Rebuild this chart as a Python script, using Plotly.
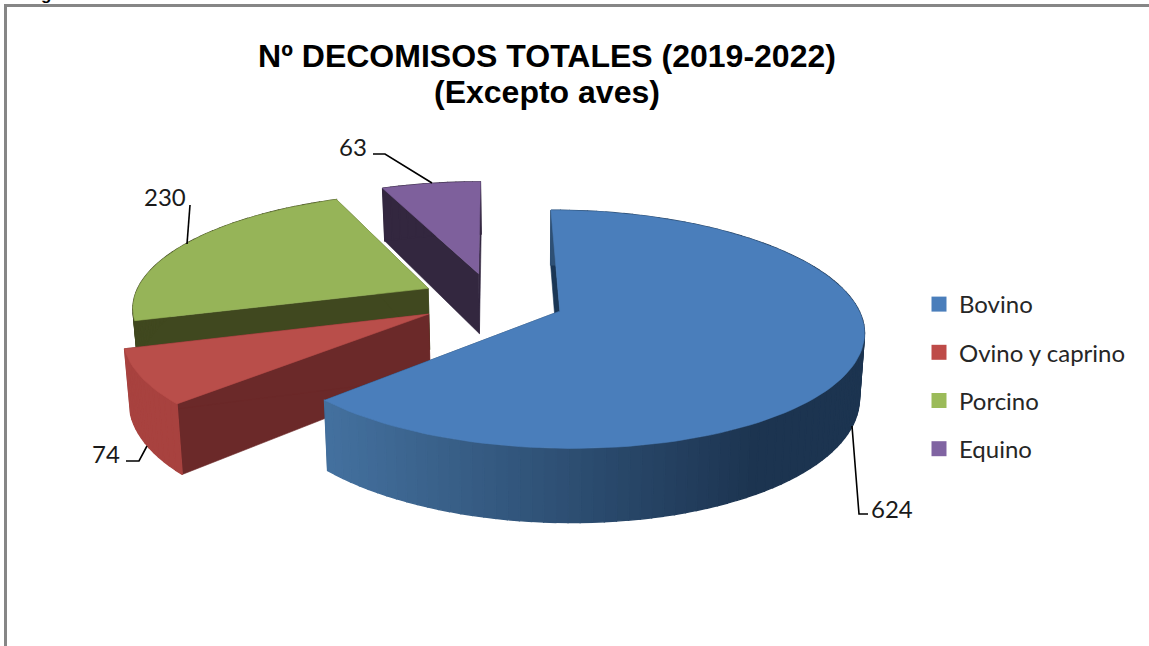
import math
import plotly.graph_objects as go

categories = ["Bovino", "Ovino y caprino", "Porcino", "Equino"]
values = [624, 74, 230, 63]
top_colors = ["#4a7ebb", "#b94e4a", "#96b458", "#7e609c"]
wall_colors = ["#1a3655", "#6b2929", "#40481f", "#33273f"]
legend_colors = ["#4a7ebb", "#be4b48", "#9bbb59", "#8064a2"]

# projection of the tilted pie on the pixel-sized axes
X0, Y0, A, B, K, DEPTH, EXPLODE = 492.5, 300, 295, 113, 0.15, 62, 0.245


def project(u, v):
    w = 1 + K * v
    return X0 + A * u / w, Y0 - B * v / w, w


def polar(angle, radius, ox, oy):
    a = math.radians(angle)
    return ox + radius * math.sin(a), oy + radius * math.cos(a)


def mix(c1, c2, t):
    t = max(0, min(1, t))
    p1 = [int(c1[i:i + 2], 16) for i in (1, 3, 5)]
    p2 = [int(c2[i:i + 2], 16) for i in (1, 3, 5)]
    return "rgb(%d,%d,%d)" % tuple(a + (b - a) * t for a, b in zip(p1, p2))


def poly(points, color, lw=0.6):
    return go.Scatter(
        x=[p[0] for p in points] + [points[0][0]],
        y=[p[1] for p in points] + [points[0][1]],
        mode="lines", fill="toself", fillcolor=color,
        line=dict(color=color, width=lw),
        hoverinfo="skip", showlegend=False,
    )


def low(p):
    # lower edge of the solid: slightly narrower, as seen in perspective
    return (p[0] + (530 - p[0]) * 0.015, p[1] + DEPTH / p[2])


total = sum(values)
start = 0
spans = []
for val in values:
    sweep = val / total * 360
    spans.append((start, start + sweep))
    start += sweep

traces = []
for idx in (3, 2, 1, 0):
    a0, a1 = spans[idx]
    mid = (a0 + a1) / 2
    ox, oy = polar(mid, EXPLODE, 0, 0)
    n = max(12, int((a1 - a0) / 2))
    angles = [a0 + (a1 - a0) * i / n for i in range(n + 1)]
    rim = [project(*polar(t, 1, ox, oy)) for t in angles]
    apex = project(ox, oy)

    # straight end walls
    for edge in (rim[0], rim[-1]):
        traces.append(poly([edge[:2], apex[:2], low(apex), low(edge)], wall_colors[idx]))
    # outer rim, shaded strip by strip
    for i in range(n):
        p, q = rim[i], rim[i + 1]
        if idx == 0:
            t = (p[0] + q[0]) / 2
            col = mix("#44719f", "#1c3450", (t - 327) / (760 - 327))
        elif idx == 1:
            col = "#a8423f"
        else:
            col = wall_colors[idx]
        traces.append(poly([p[:2], q[:2], low(q), low(p)], col, 1.4))
    # top face
    traces.append(poly([apex[:2]] + [r[:2] for r in rim], top_colors[idx]))

fig = go.Figure(traces)

# legend entries
for name, col in zip(categories, legend_colors):
    fig.add_trace(go.Scatter(
        x=[None], y=[None], mode="markers", name=name, legendgroup=name,
        marker=dict(symbol="square", size=15, color=col),
    ))

# leader lines
leaders = [
    [(852, 426), (859, 514), (868, 514)],
    [(147, 446), (139, 461), (126, 461)],
    [(190, 205), (187, 244)],
    [(373, 154), (385, 154), (432, 183)],
]
for pts in leaders:
    fig.add_trace(go.Scatter(
        x=[p[0] for p in pts], y=[p[1] for p in pts], mode="lines",
        line=dict(color="#000000", width=1.6), hoverinfo="skip", showlegend=False,
    ))

label_pos = [(892, 508), (106, 453), (165, 196), (353, 146)]
annotations = [
    dict(x=x, y=y, text=str(v), showarrow=False,
         font=dict(family="Lato, Carlito, sans-serif", size=24, color="#1a1a1a"))
    for (x, y), v in zip(label_pos, values)
]
annotations.append(dict(
    x=24, y=6, text="<b>Figura</b>", showarrow=False, xanchor="left", yanchor="bottom",
    font=dict(family="Liberation Sans", size=17, color="#000000"),
))
annotations.append(dict(
    x=547, y=92, text="<b>(Excepto aves)</b>", showarrow=False,
    font=dict(family="Liberation Sans", size=32, color="#000000"),
))

fig.update_layout(
    width=1149, height=646,
    margin=dict(l=0, r=0, t=0, b=0),
    paper_bgcolor="#ffffff", plot_bgcolor="#ffffff",
    xaxis=dict(range=[0, 1149], visible=False, fixedrange=True),
    yaxis=dict(range=[646, 0], visible=False, fixedrange=True),
    title=dict(
        text="Nº DECOMISOS TOTALES (2019-2022)",
        x=547 / 1149, xanchor="center", y=1 - 56 / 646, yanchor="middle",
        font=dict(family="Liberation Sans", size=32, color="#000000", weight="bold"),
    ),
    legend=dict(
        x=919 / 1149, y=1 - 282 / 646, xanchor="left", yanchor="top",
        tracegroupgap=14, itemwidth=30, bgcolor="rgba(0,0,0,0)",
        font=dict(family="Lato, Carlito, sans-serif", size=24, color="#262626"),
    ),
    annotations=annotations,
    shapes=[dict(type="rect", xref="x", yref="y", x0=5.5, y0=5.5, x1=1160, y1=660,
                 line=dict(color="#868686", width=3), layer="above")],
    showlegend=True,
)
fig.write_html("out.html", config={"displayModeBar": False},
               post_script="document.body.style.margin='0';")
